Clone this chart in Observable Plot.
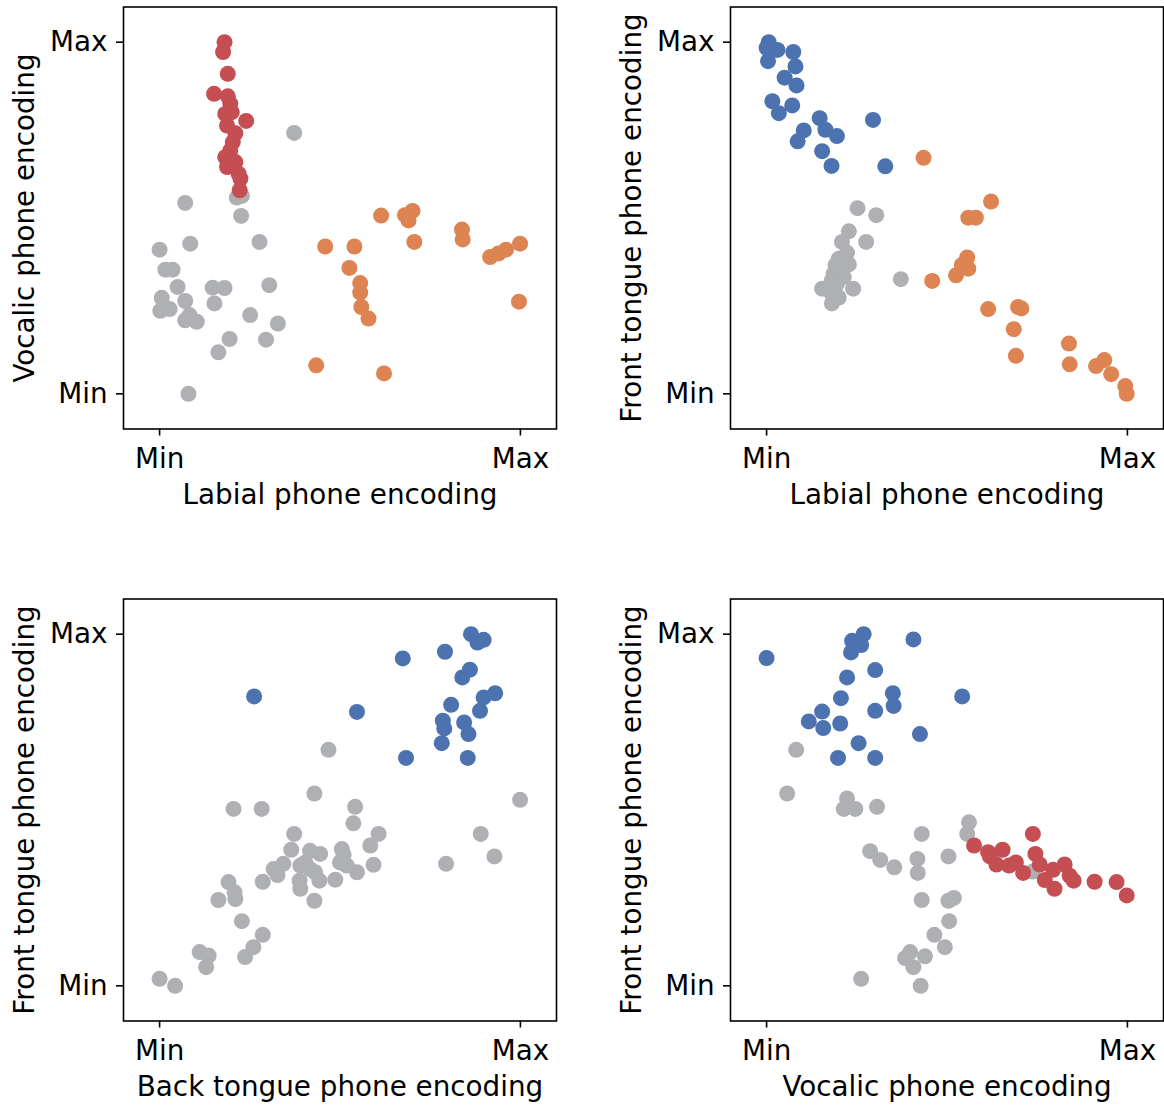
<!DOCTYPE html>
<html><head><meta charset="utf-8">
<script src="https://cdn.jsdelivr.net/npm/d3@7"></script>
<script src="https://cdn.jsdelivr.net/npm/@observablehq/plot@0.6"></script>
<style>
html,body{margin:0;padding:0;background:#fff;}
#chart{position:relative;width:1164px;height:1105px;font-family:"DejaVu Sans",sans-serif;}
#chart svg{position:absolute;overflow:visible;}
</style></head><body><div id="chart"></div>
<script>
// Tick labels and groups
const tickLabels = ["Min", "Max"];
const groups = ["other", "front", "labial", "vocalic"];
const groupColors = ["#afb0b4", "#4c72b0", "#dd8452", "#c44e52"];

// Panel 1: Labial (x) vs Vocalic (y)
const p1Other = [[0.373,0.742],[0.071,0.543],[0.214,0.558],[0.228,0.563],[0.226,0.506],[0.085,0.427],[0.277,0.432],[0,0.410],[0.016,0.353],[0.036,0.353],[0.050,0.304],[0.147,0.302],[0.180,0.301],[0.304,0.309],[0.006,0.273],[0.071,0.264],[0.152,0.257],[0.002,0.236],[0.028,0.241],[0.083,0.224],[0.071,0.209],[0.103,0.205],[0.251,0.224],[0.328,0.200],[0.194,0.156],[0.295,0.154],[0.163,0.118],[0.080,0]];
const p1Vocalic = [[0.180,1.0],[0.176,0.972],[0.189,0.910],[0.151,0.853],[0.189,0.846],[0.196,0.825],[0.182,0.796],[0.200,0.801],[0.240,0.776],[0.187,0.763],[0.210,0.741],[0.203,0.716],[0.196,0.692],[0.182,0.673],[0.210,0.659],[0.187,0.645],[0.219,0.626],[0.224,0.612],[0.222,0.579]];
const p1Labial = [[0.614,0.507],[0.680,0.508],[0.701,0.520],[0.690,0.493],[0.706,0.432],[0.459,0.419],[0.540,0.419],[0.838,0.467],[0.840,0.439],[0.999,0.427],[0.916,0.389],[0.939,0.399],[0.960,0.410],[0.526,0.358],[0.556,0.315],[0.556,0.288],[0.559,0.247],[0.579,0.214],[0.996,0.262],[0.434,0.081],[0.622,0.058]];

// Panel 2: Labial (x) vs Front tongue (y)
const p2Other = [[0.252,0.528],[0.304,0.508],[0.228,0.462],[0.209,0.432],[0.276,0.432],[0.223,0.401],[0.200,0.384],[0.228,0.368],[0.191,0.366],[0.186,0.342],[0.214,0.332],[0.181,0.323],[0.195,0.313],[0.154,0.299],[0.240,0.299],[0.181,0.285],[0.200,0.274],[0.181,0.257],[0.372,0.326]];
const p2Front = [[0.006,1.0],[0,0.984],[0.030,0.978],[0.074,0.972],[0.004,0.946],[0.080,0.931],[0.050,0.899],[0.083,0.877],[0.016,0.832],[0.071,0.820],[0.034,0.798],[0.147,0.784],[0.163,0.751],[0.103,0.749],[0.195,0.733],[0.086,0.718],[0.154,0.690],[0.180,0.648],[0.295,0.779],[0.329,0.647]];
const p2Labial = [[0.435,0.671],[0.622,0.547],[0.559,0.501],[0.580,0.501],[0.556,0.388],[0.541,0.366],[0.559,0.356],[0.525,0.337],[0.459,0.321],[0.614,0.241],[0.697,0.247],[0.706,0.243],[0.685,0.184],[0.691,0.108],[0.838,0.143],[0.840,0.084],[0.913,0.079],[0.936,0.096],[0.955,0.056],[0.994,0.022],[0.998,0]];

// Panel 3: Back tongue (x) vs Front tongue (y)
const p3Other = [[0.468,0.671],[0.429,0.547],[0.999,0.529],[0.205,0.503],[0.283,0.503],[0.542,0.509],[0.537,0.462],[0.373,0.432],[0.607,0.432],[0.584,0.399],[0.890,0.432],[0.365,0.387],[0.417,0.384],[0.445,0.375],[0.505,0.389],[0.510,0.372],[0.343,0.347],[0.316,0.332],[0.327,0.315],[0.390,0.342],[0.404,0.351],[0.417,0.332],[0.431,0.323],[0.500,0.351],[0.519,0.342],[0.593,0.344],[0.794,0.347],[0.928,0.368],[0.191,0.295],[0.286,0.296],[0.388,0.299],[0.390,0.276],[0.443,0.299],[0.487,0.302],[0.547,0.323],[0.208,0.266],[0.210,0.247],[0.163,0.244],[0.429,0.242],[0.228,0.184],[0.286,0.145],[0.260,0.110],[0.237,0.082],[0.111,0.096],[0.136,0.086],[0.129,0.053],[0,0.020],[0.043,0]];
const p3Front = [[0.863,1.0],[0.881,0.976],[0.898,0.984],[0.791,0.950],[0.674,0.931],[0.860,0.899],[0.839,0.877],[0.262,0.823],[0.898,0.820],[0.930,0.832],[0.808,0.799],[0.888,0.782],[0.547,0.779],[0.785,0.754],[0.789,0.732],[0.844,0.749],[0.856,0.716],[0.782,0.690],[0.683,0.648],[0.854,0.648]];

// Panel 4: Vocalic (x) vs Front tongue (y)
const p4Other = [[0.082,0.671],[0.057,0.547],[0.223,0.533],[0.214,0.503],[0.246,0.503],[0.306,0.509],[0.561,0.465],[0.556,0.432],[0.430,0.432],[0.287,0.383],[0.315,0.358],[0.354,0.337],[0.418,0.361],[0.419,0.321],[0.504,0.368],[0.738,0.325],[0.430,0.244],[0.504,0.242],[0.519,0.250],[0.506,0.184],[0.465,0.145],[0.494,0.110],[0.398,0.096],[0.384,0.079],[0.439,0.084],[0.407,0.053],[0.262,0.020],[0.427,0]];
const p4Front = [[0,0.932],[0.269,1.0],[0.237,0.981],[0.262,0.969],[0.234,0.948],[0.407,0.985],[0.223,0.877],[0.301,0.898],[0.206,0.818],[0.350,0.832],[0.352,0.796],[0.301,0.782],[0.154,0.780],[0.117,0.752],[0.157,0.733],[0.204,0.746],[0.542,0.823],[0.425,0.716],[0.255,0.690],[0.198,0.648],[0.301,0.648]];
const p4Vocalic = [[0.575,0.399],[0.614,0.380],[0.654,0.387],[0.619,0.368],[0.637,0.345],[0.672,0.342],[0.691,0.351],[0.711,0.321],[0.738,0.432],[0.745,0.375],[0.757,0.345],[0.771,0.301],[0.794,0.330],[0.798,0.276],[0.826,0.345],[0.840,0.313],[0.851,0.299],[0.909,0.296],[0.970,0.295],[0.998,0.257]];

const panels = [
  {left: 0, top: 0, xLabel: "Labial phone encoding", yLabel: "Vocalic phone encoding",
   series: [["other", p1Other], ["labial", p1Labial], ["vocalic", p1Vocalic]]},
  {left: 607, top: 0, xLabel: "Labial phone encoding", yLabel: "Front tongue phone encoding",
   series: [["other", p2Other], ["labial", p2Labial], ["front", p2Front]]},
  {left: 0, top: 592, xLabel: "Back tongue phone encoding", yLabel: "Front tongue phone encoding",
   series: [["other", p3Other], ["front", p3Front]]},
  {left: 607, top: 592, xLabel: "Vocalic phone encoding", yLabel: "Front tongue phone encoding",
   series: [["other", p4Other], ["front", p4Front], ["vocalic", p4Vocalic]]}
];

const FS = 27.8;
const chart = document.getElementById("chart");
for (const p of panels) {
  const data = p.series.flatMap(([g, pts]) => pts.map(([x, y]) => ({x, y, group: g})));
  const svg = Plot.plot({
    width: 558, height: 513,
    marginLeft: 123, marginRight: 2, marginTop: 6.5, marginBottom: 84.5,
    x: {domain: [-0.1, 1.1]},
    y: {domain: [-0.1, 1.1]},
    color: {type: "ordinal", domain: groups, range: groupColors},
    style: {fontFamily: "'DejaVu Sans', sans-serif", fontSize: FS + "px", color: "black", background: "transparent", overflow: "visible"},
    marks: [
      Plot.dot(data, {x: "x", y: "y", r: 8, fill: "group"}),
      Plot.frame({stroke: "black", strokeWidth: 1.6}),
      Plot.axisX({ticks: [0, 1], tickFormat: d => tickLabels[d], tickSize: 7, tickPadding: 12, strokeWidth: 1.6, fontSize: FS, label: null}),
      Plot.axisY({ticks: [0, 1], tickFormat: d => tickLabels[d], tickSize: 7, tickPadding: 9, strokeWidth: 1.6, fontSize: FS, label: null}),
      Plot.text([p.xLabel], {frameAnchor: "bottom", lineAnchor: "middle", textAnchor: "middle", dy: 66, fontSize: FS, fill: "black"}),
      Plot.text([p.yLabel], {frameAnchor: "left", lineAnchor: "middle", textAnchor: "middle", rotate: -90, dx: -98.7, fontSize: FS, fill: "black"})
    ]
  });
  svg.style.left = p.left + "px";
  svg.style.top = p.top + "px";
  chart.appendChild(svg);
}
</script></body></html>
